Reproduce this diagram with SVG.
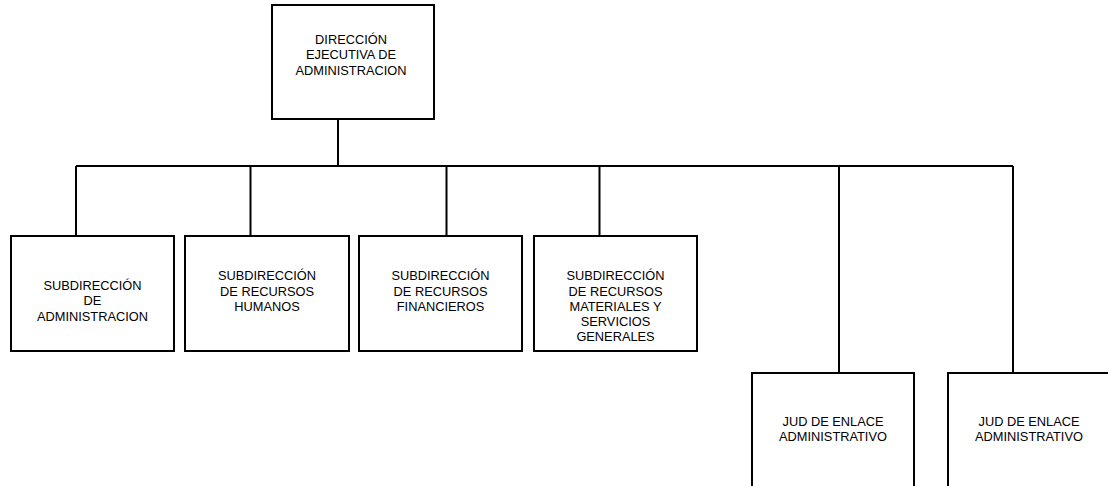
<svg xmlns="http://www.w3.org/2000/svg" width="1108" height="486" viewBox="0 0 1108 486">
<style>
.box{fill:#fff;stroke:#000;stroke-width:2}
.ln{fill:none;stroke:#000;stroke-width:2}
text{font-family:"Liberation Sans",Arial,sans-serif;font-size:12.8px;fill:#000;text-anchor:middle}
</style>
<rect width="1108" height="486" fill="#fff"/>
<g id="connectors">
<path class="ln" d="M338,119V166M76,166H1013M76,166V236M250.5,166V236M446.5,166V236M599.5,166V236M839,166V373M1013,166V373"/>
</g>
<g id="n0">
<rect class="box" x="272" y="5" width="162" height="114"/>
<text x="351" y="43.5">DIRECCIÓN</text>
<text x="351" y="59">EJECUTIVA DE</text>
<text x="351" y="74.5">ADMINISTRACION</text>
</g>
<g id="n1">
<rect class="box" x="11" y="236" width="163" height="115"/>
<text x="92.5" y="289.5">SUBDIRECCIÓN</text>
<text x="92.5" y="305">DE</text>
<text x="92.5" y="320.5">ADMINISTRACION</text>
</g>
<g id="n2">
<rect class="box" x="185" y="236" width="164" height="115"/>
<text x="267" y="280">SUBDIRECCIÓN</text>
<text x="267" y="295.5">DE RECURSOS</text>
<text x="267" y="311">HUMANOS</text>
</g>
<g id="n3">
<rect class="box" x="359" y="236" width="163" height="115"/>
<text x="440.5" y="280">SUBDIRECCIÓN</text>
<text x="440.5" y="295.5">DE RECURSOS</text>
<text x="440.5" y="311">FINANCIEROS</text>
</g>
<g id="n4">
<rect class="box" x="534" y="236" width="163" height="115"/>
<text x="615.5" y="280">SUBDIRECCIÓN</text>
<text x="615.5" y="295.5">DE RECURSOS</text>
<text x="615.5" y="311">MATERIALES Y</text>
<text x="615.5" y="326">SERVICIOS</text>
<text x="615.5" y="341">GENERALES</text>
</g>
<g id="n5">
<rect class="box" x="752" y="373" width="162" height="130"/>
<text x="833" y="426">JUD DE ENLACE</text>
<text x="833" y="441">ADMINISTRATIVO</text>
</g>
<g id="n6">
<rect class="box" x="948" y="373" width="162" height="130"/>
<text x="1029" y="426">JUD DE ENLACE</text>
<text x="1029" y="441">ADMINISTRATIVO</text>
</g>
</svg>
